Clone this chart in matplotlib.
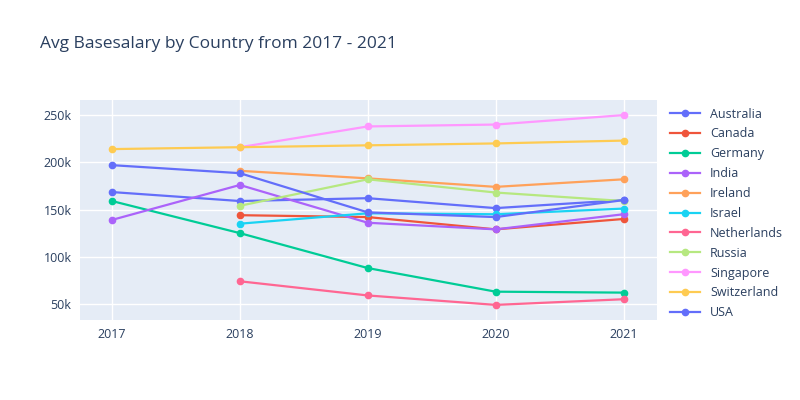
import matplotlib.pyplot as plt
from matplotlib.ticker import FuncFormatter

plt.rcParams['font.family'] = ['Open Sans', 'DejaVu Sans']

years = [2017, 2018, 2019, 2020, 2021]
countries = ['Australia', 'Canada', 'Germany', 'India', 'Ireland', 'Israel',
             'Netherlands', 'Russia', 'Singapore', 'Switzerland', 'USA']
colors = ['#636efa', '#EF553B', '#00cc96', '#ab63fa', '#FFA15A', '#19d3f3',
          '#FF6692', '#B6E880', '#FF97FF', '#FECB52', '#636efa']
# None = no data for that year
salaries = {
    'Australia':   [168.5, 159, 162, 151.5, 160],
    'Canada':      [None, 144, 142, 129, 140],
    'Germany':     [159, 125, 88, 63, 62],
    'India':       [139, 176, 136, 129, 145],
    'Ireland':     [None, 191, 183, 174, 182],
    'Israel':      [None, 135, 146, 145, 151],
    'Netherlands': [None, 74, 59, 49, 55],
    'Russia':      [None, 154, 182, 168, 159],
    'Singapore':   [None, 216, 238, 240, 250],
    'Switzerland': [214, 216, 218, 220, 223],
    'USA':         [197, 188.5, 147, 142, 160],
}

fig = plt.figure(figsize=(8, 4), dpi=100)
ax = fig.add_axes([0.1, 0.2, 0.721, 0.55])
ax.set_facecolor('#E5ECF6')

for c, col in zip(countries, colors):
    pts = [(y, v * 1000) for y, v in zip(years, salaries[c]) if v is not None]
    xs, ys = zip(*pts)
    ax.plot(xs, ys, '-o', color=col, lw=1.6, ms=4.5, label=c)

ax.set_xlim(2016.75, 2021.26)
ax.set_ylim(33000, 266000)
ax.set_xticks(years)
ax.set_yticks([50000, 100000, 150000, 200000, 250000])
ax.yaxis.set_major_formatter(FuncFormatter(lambda v, p: f'{int(v/1000)}k'))
ax.grid(color='white', lw=1)
ax.set_axisbelow(True)
for s in ax.spines.values():
    s.set_visible(False)
ax.tick_params(length=0, labelsize=9, colors='#2a3f5f', pad=6)

ax.legend(loc='upper left', bbox_to_anchor=(1.01, 1.0), frameon=False,
          fontsize=9, labelcolor='#2a3f5f', handlelength=2.4,
          labelspacing=0.55, borderaxespad=0.2)
fig.text(0.05, 0.88, 'Avg Basesalary by Country from 2017 - 2021',
         fontsize=12.5, color='#2a3f5f')

fig.savefig('out.png')
